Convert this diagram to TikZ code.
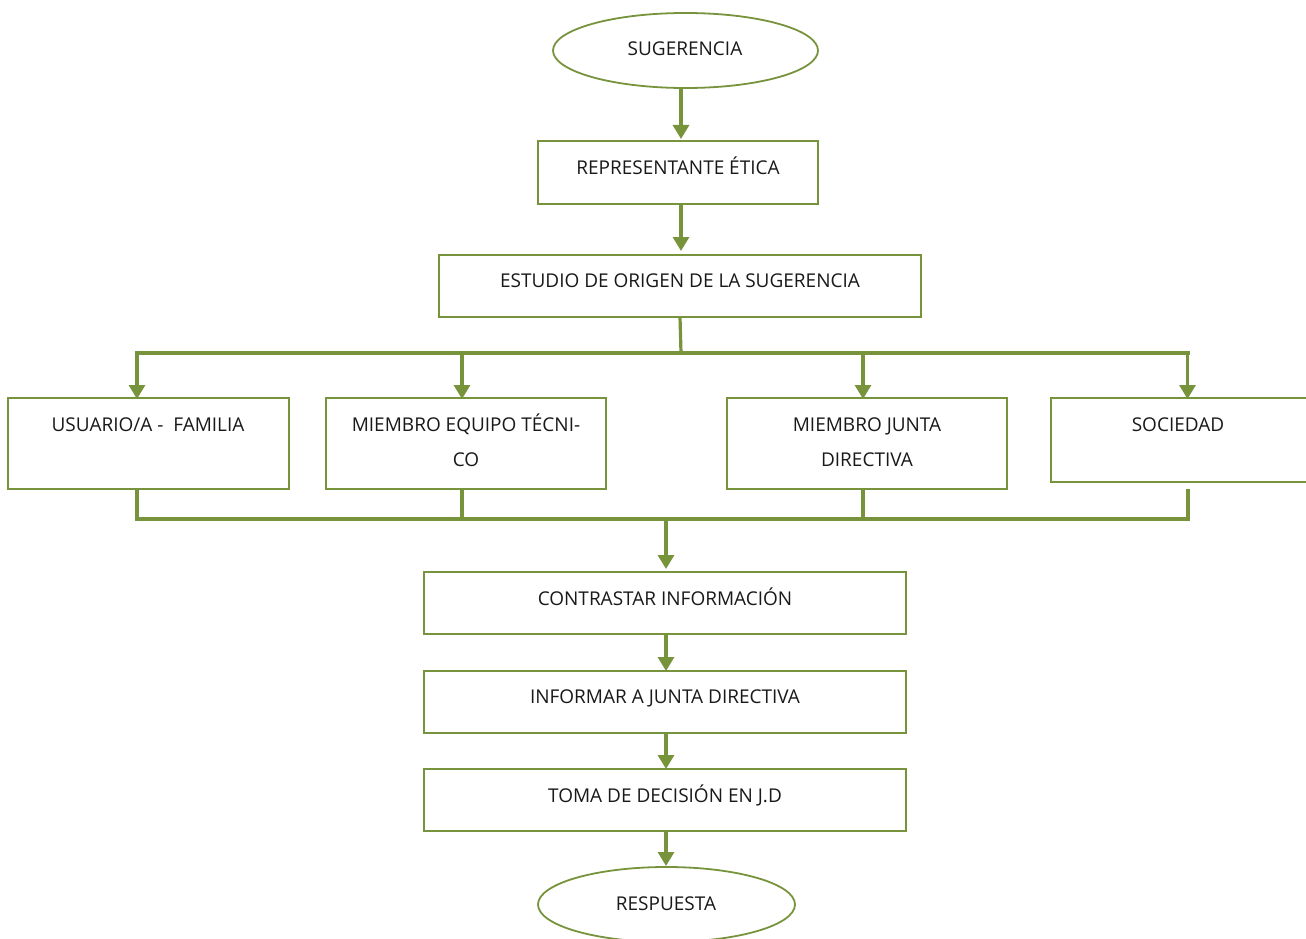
\documentclass[tikz,border=0pt]{standalone}
\usepackage{fontspec}
\setmainfont{Open Sans}
\usetikzlibrary{arrows.meta,shapes.geometric}
\definecolor{olive}{HTML}{77933C}
\tikzset{
  box/.style={draw=olive, line width=1.8pt, rectangle, inner sep=0pt},
  oval/.style={draw=olive, line width=1.8pt, ellipse, inner sep=0pt},
  txt/.style={inner sep=0pt, anchor=base, font=\fontsize{19}{35}\selectfont, text=black!90, align=center},
  conn/.style={draw=olive, line width=3.2pt},
  arr/.style={conn, -{Triangle[length=14pt,width=16pt]}},
}
\begin{document}
\begin{tikzpicture}[x=1pt,y=-1pt]
\path[use as bounding box] (0,0) rectangle (1306,939);
\clip (0,0) rectangle (1306,939);
% shapes
\node[oval, minimum width=265pt, minimum height=75pt] (sug) at (685.5,50.5) {};
\node[txt] at (685,56) {SUGERENCIA};
\node[box, minimum width=280pt, minimum height=63pt] (rep) at (678,172.5) {};
\node[txt] at (678,174) {REPRESENTANTE ÉTICA};
\node[box, minimum width=482pt, minimum height=62pt] (est) at (680,286) {};
\node[txt] at (680,287) {ESTUDIO DE ORIGEN DE LA SUGERENCIA};
\node[box, minimum width=281pt, minimum height=91pt] (usu) at (148.5,443.5) {};
\node[txt] at (148,431) {USUARIO/A -~~FAMILIA};
\node[box, minimum width=280pt, minimum height=91pt] (tec) at (466,443.5) {};
\node[txt] at (466,466) {MIEMBRO EQUIPO TÉCNI-\\CO};
\node[box, minimum width=280pt, minimum height=91pt] (jun) at (867,443.5) {};
\node[txt] at (867,466) {MIEMBRO JUNTA\\DIRECTIVA};
\node[box, minimum width=256pt, minimum height=84pt] (soc) at (1179,440) {};
\node[txt] at (1178,431) {SOCIEDAD};
\node[box, minimum width=482pt, minimum height=62pt] (con) at (665,603) {};
\node[txt] at (665,605) {CONTRASTAR INFORMACIÓN};
\node[box, minimum width=482pt, minimum height=62pt] (inf) at (665,702) {};
\node[txt] at (665,703) {INFORMAR A JUNTA DIRECTIVA};
\node[box, minimum width=482pt, minimum height=62pt] (tom) at (665,800) {};
\node[txt] at (665,802) {TOMA DE DECISIÓN EN J.D};
\node[oval, minimum width=257pt, minimum height=75pt] (res) at (666.5,904.5) {};
\node[txt] at (666,910) {RESPUESTA};
% junction coordinates
\coordinate (top) at (681,353);
\coordinate (bot) at (666,519);
% connectors
\draw[arr] (681,88) -- (681,139);
\draw[arr] (681,204) -- (681,251);
\draw[conn] (680,317) -- (top);
\draw[conn, line cap=rect] (137,353) -- (1188,353);
\draw[arr] (137,353) -- (137,399);
\draw[arr] (462,353) -- (462,399);
\draw[arr] (863,353) -- (863,399);
\draw[arr] (1187.5,353) -- (1187.5,399);
\draw[conn] (137,489) -- (137,519);
\draw[conn] (462,489) -- (462,519);
\draw[conn] (863,489) -- (863,519);
\draw[conn] (1188,489) -- (1188,519);
\draw[conn, line cap=rect] (137,519) -- (1188,519);
\draw[arr] (bot) -- (666,569);
\draw[arr] (666,634) -- (666,671);
\draw[arr] (666,733) -- (666,769);
\draw[arr] (666,831) -- (666,866);
\end{tikzpicture}
\end{document}
